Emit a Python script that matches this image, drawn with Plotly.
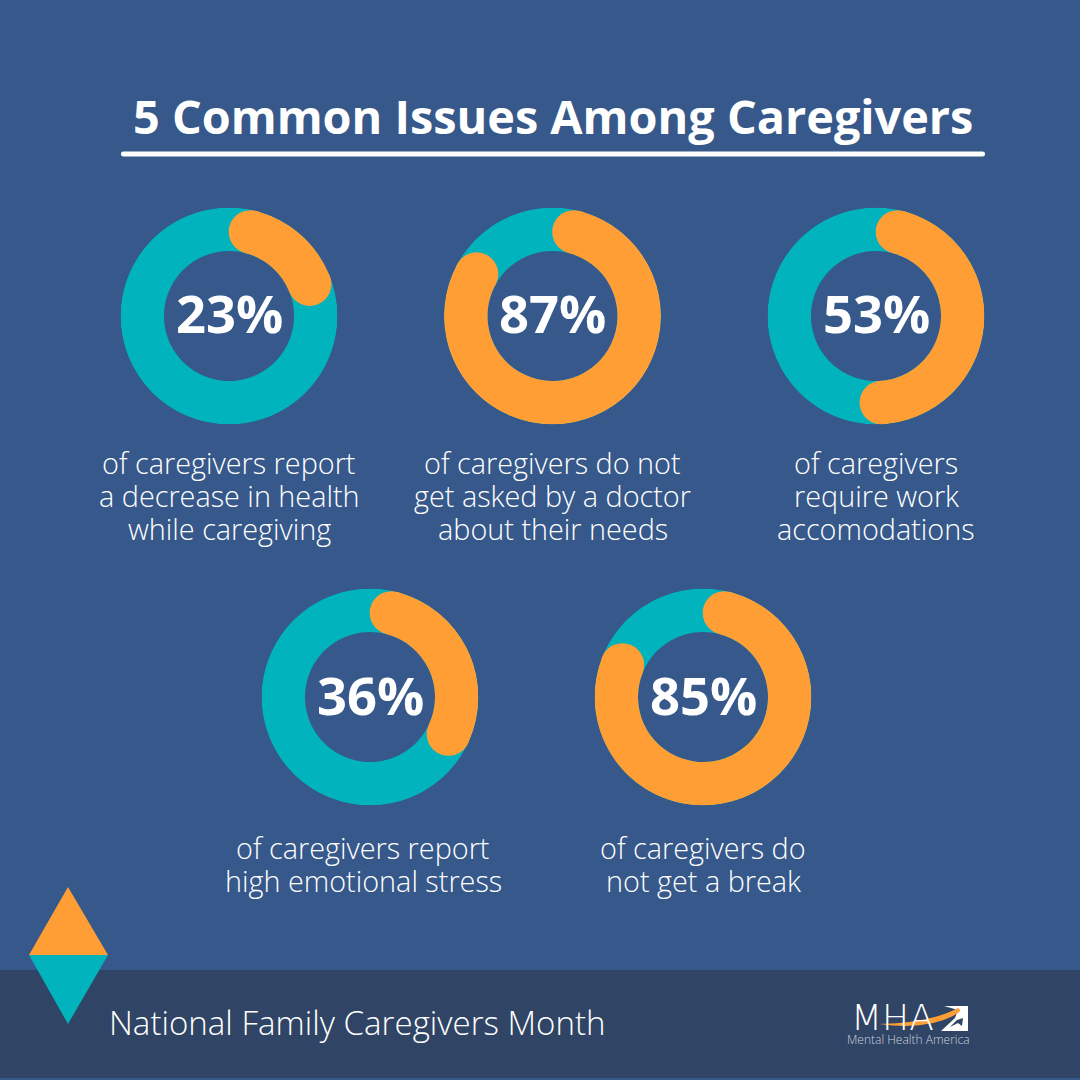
import plotly.graph_objects as go

BG = "#36588a"
BAND = "#304465"
TEAL = "#00b3bc"
ORANGE = "#ff9e35"
WHITE = "#ffffff"
FONT = "Open Sans"

percents = [23, 87, 53, 36, 85]
labels = [
    ["of caregivers report", "a decrease in health", "while caregiving"],
    ["of caregivers do not", "get asked by a doctor", "about their needs"],
    ["of caregivers", "require work", "accomodations"],
    ["of caregivers report", "high emotional stress"],
    ["of caregivers do", "not get a break"],
]
centers = [(229, 316), (552.5, 316), (876, 316), (370, 697), (703, 697)]
label_x = [229, 552.5, 876, 363, 703]
label_y0 = [462, 462, 462, 847, 847]
title = "5 Common Issues Among Caregivers"
footer = "National Family Caregivers Month"

R_OUT, R_IN = 108.5, 65
R_MID = (R_OUT + R_IN) / 2
CAP_DEG = 14.3  # angular half-width of the round end cap
W = H = 1080


def px(x):
    return x / W


def py(y):
    return 1 - y / H


fig = go.Figure()
layout_polars = {}
annotations = []

for i, (pct, (cx, cy)) in enumerate(zip(percents, centers)):
    key = "polar" if i == 0 else f"polar{i + 1}"
    sub = key
    start = CAP_DEG
    end = pct * 3.6 - CAP_DEG
    fig.add_trace(go.Barpolar(
        r=[R_OUT - R_IN], base=[R_IN], theta=[180], width=[359.99],
        marker=dict(color=TEAL, line=dict(width=0)), subplot=sub, hoverinfo="skip", showlegend=False))
    fig.add_trace(go.Barpolar(
        r=[R_OUT - R_IN], base=[R_IN], theta=[(start + end) / 2], width=[end - start],
        marker=dict(color=ORANGE, line=dict(width=0)), subplot=sub, hoverinfo="skip", showlegend=False))
    fig.add_trace(go.Scatterpolar(
        r=[R_MID, R_MID], theta=[start, end], mode="markers",
        marker=dict(color=ORANGE, size=R_OUT - R_IN, line=dict(width=0)),
        subplot=sub, hoverinfo="skip", showlegend=False))
    layout_polars[key] = dict(
        domain=dict(x=[px(cx - R_OUT), px(cx + R_OUT)], y=[py(cy + R_OUT), py(cy - R_OUT)]),
        bgcolor="rgba(0,0,0,0)",
        radialaxis=dict(visible=False, range=[0, R_OUT]),
        angularaxis=dict(visible=False, direction="clockwise", rotation=90),
    )
    annotations.append(dict(
        x=px(cx), y=py(cy - 3), xref="paper", yref="paper", text=f"<b>{pct}%</b>", showarrow=False,
        xanchor="center", yanchor="middle", font=dict(family=FONT, size=52.5, color=WHITE)))
    for j, line in enumerate(labels[i]):
        annotations.append(dict(
            x=px(label_x[i]), y=py(label_y0[i] + j * 33.3), xref="paper", yref="paper", text=line,
            showarrow=False, xanchor="center", yanchor="middle",
            font=dict(family=FONT, size=28.8, color=WHITE, weight=300)))

annotations += [
    dict(x=px(553), y=py(116), xref="paper", yref="paper", text=f"<b>{title}</b>", showarrow=False,
         xanchor="center", yanchor="middle", font=dict(family=FONT, size=46.8, color=WHITE)),
    dict(x=px(107), y=py(1022), xref="paper", yref="paper", text=footer, showarrow=False,
         xanchor="left", yanchor="middle", font=dict(family=FONT, size=33.1, color=WHITE, weight=300)),
    dict(x=px(892), y=py(1017), xref="paper", yref="paper", text="MHA", showarrow=False,
         xanchor="center", yanchor="middle",
         font=dict(family="DejaVu Sans", size=36, color=WHITE, weight=200)),
    dict(x=px(908), y=py(1039), xref="paper", yref="paper", text="Mental Health America", showarrow=False,
         xanchor="center", yanchor="middle",
         font=dict(family=FONT, size=12, color="#c9d2de", weight=300)),
]


def path_px(points):
    return "M " + " L ".join(f"{px(x):.5f} {py(y):.5f}" for x, y in points) + " Z"


x0, x1, y0, y1 = 121, 985, 151.5, 156.5
rule_path = (f"M {px(x0 + 2.5):.5f} {py(y0):.5f} L {px(x1 - 2.5):.5f} {py(y0):.5f} "
             f"Q {px(x1):.5f} {py(y0):.5f} {px(x1):.5f} {py(y0 + 2.5):.5f} "
             f"Q {px(x1):.5f} {py(y1):.5f} {px(x1 - 2.5):.5f} {py(y1):.5f} "
             f"L {px(x0 + 2.5):.5f} {py(y1):.5f} "
             f"Q {px(x0):.5f} {py(y1):.5f} {px(x0):.5f} {py(y0 + 2.5):.5f} "
             f"Q {px(x0):.5f} {py(y0):.5f} {px(x0 + 2.5):.5f} {py(y0):.5f} Z")

shapes = [
    dict(type="rect", xref="paper", yref="paper", x0=0, x1=1, y0=py(1078), y1=py(970),
         fillcolor=BAND, line_width=0, layer="below"),
    dict(type="path", xref="paper", yref="paper", path=path_px([(68, 887), (108, 955), (29, 955)]),
         fillcolor=ORANGE, line_width=0),
    dict(type="path", xref="paper", yref="paper", path=path_px([(29, 955), (108, 955), (68, 1024)]),
         fillcolor=TEAL, line_width=0),
    dict(type="path", xref="paper", yref="paper", path=rule_path, fillcolor=WHITE, line_width=0),
    dict(type="path", xref="paper", yref="paper",
         path=path_px([(944, 1006), (968, 1006), (968, 1031), (941, 1031), (955, 1018), (958, 1010)]),
         fillcolor=WHITE, line_width=0),
    dict(type="path", xref="paper", yref="paper",
         path=path_px([(950, 1027), (957, 1020), (963, 1018), (962, 1026), (958, 1023)]),
         fillcolor=BAND, line_width=0),
    dict(type="path", xref="paper", yref="paper",
         path=f"M {px(879):.5f} {py(1024):.5f} Q {px(930):.5f} {py(1023):.5f} {px(958):.5f} {py(1008):.5f} "
              f"Q {px(962):.5f} {py(1010):.5f} {px(958):.5f} {py(1013):.5f} "
              f"Q {px(930):.5f} {py(1031):.5f} {px(879):.5f} {py(1024):.5f} Z",
         fillcolor=ORANGE, line_width=0),
]

fig.update_layout(
    width=W, height=H, margin=dict(l=0, r=0, t=0, b=0),
    paper_bgcolor=BG, plot_bgcolor=BG, showlegend=False,
    annotations=annotations, shapes=shapes,
    **layout_polars,
)

fig.write_html("out.html", config={"displayModeBar": False},
               post_script="document.body.style.margin='0';document.body.style.background='#36588a';")
